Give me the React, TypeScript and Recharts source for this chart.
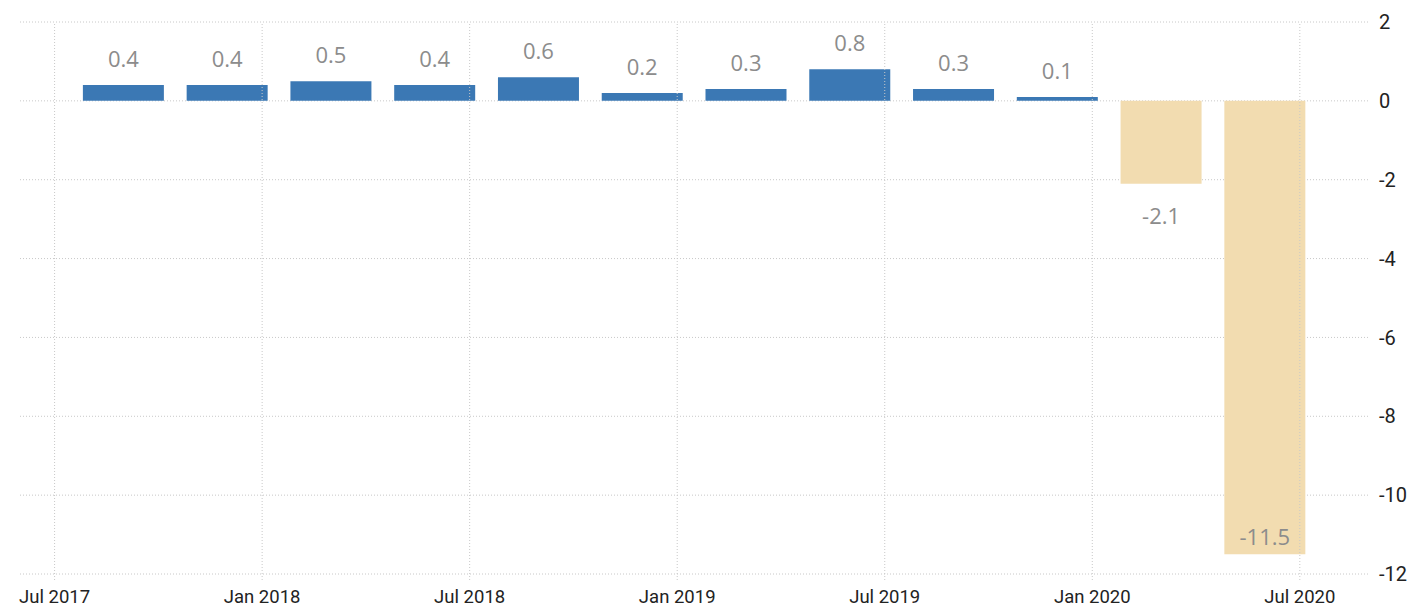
import { Bar, BarChart, CartesianGrid, Cell, LabelList, ReferenceLine, XAxis, YAxis } from "recharts"

// quarterly GDP growth, q/q %
const quarters = ["Q3 2017", "Q4 2017", "Q1 2018", "Q2 2018", "Q3 2018", "Q4 2018", "Q1 2019", "Q2 2019", "Q3 2019", "Q4 2019", "Q1 2020", "Q2 2020"]
// months after Jul 2017 where each bar sits
const barMonths = [2, 5, 8, 11, 14, 17, 20, 23, 26, 29, 32, 35]
const growth = [0.4, 0.4, 0.5, 0.4, 0.6, 0.2, 0.3, 0.8, 0.3, 0.1, -2.1, -11.5]

const tickMonths = [0, 6, 12, 18, 24, 30, 36]
const tickLabels = ["Jul 2017", "Jan 2018", "Jul 2018", "Jan 2019", "Jul 2019", "Jan 2020", "Jul 2020"]
const yTicks = [2, 0, -2, -4, -6, -8, -10, -12]

const data = quarters.map((q, i) => ({ q, m: barMonths[i], v: growth[i] }))

const tickFont = "Roboto, sans-serif"
const gridStroke = "#c8c8c8"

function ValueLabel(props: any) {
  const { x, y, width, height, value } = props
  const top = Math.min(y, y + height)
  const bottom = Math.max(y, y + height)
  const cx = x + width / 2
  let ty = top - 27
  if (value < 0) ty = value < -5 ? bottom - 18 : bottom + 31
  return (
    <text x={cx} y={ty} textAnchor="middle" dominantBaseline="central" fill="#8c8c8c" fontSize={22} fontFamily="'Open Sans', sans-serif">
      {value}
    </text>
  )
}

export default function App() {
  return (
    <div style={{ position: "absolute", left: 0, top: 0, background: "#fff" }}>
      <BarChart width={1408} height={611} data={data} margin={{ left: 20, right: 0, top: 22, bottom: 0 }}>
        <CartesianGrid stroke={gridStroke} strokeDasharray="1 2" vertical={false} />
        {tickMonths.map((t) => (
          <ReferenceLine key={t} x={t} stroke={gridStroke} strokeDasharray="1 2" />
        ))}
        <XAxis
          dataKey="m"
          type="number"
          domain={[-1, 38]}
          ticks={tickMonths}
          tickFormatter={(v) => tickLabels[tickMonths.indexOf(v)]}
          axisLine={false}
          tickLine={{ stroke: gridStroke, strokeDasharray: "1 2" }}
          tickSize={6}
          tickMargin={10}
          height={37}
          tick={{ fill: "#222", fontSize: 18.5, fontFamily: tickFont }}
        />
        <YAxis
          orientation="right"
          domain={[-12, 2]}
          ticks={yTicks}
          axisLine={false}
          tickLine={false}
          tickMargin={4}
          width={39}
          tick={{ fill: "#222", fontSize: 20, fontFamily: tickFont }}
        />
        <Bar dataKey="v" barSize={81} isAnimationActive={false}>
          {data.map((d) => (
            <Cell key={d.q} fill={d.v < 0 ? "#f2dcb0" : "#3b78b4"} />
          ))}
          <LabelList dataKey="v" content={<ValueLabel />} />
        </Bar>
      </BarChart>
    </div>
  )
}
